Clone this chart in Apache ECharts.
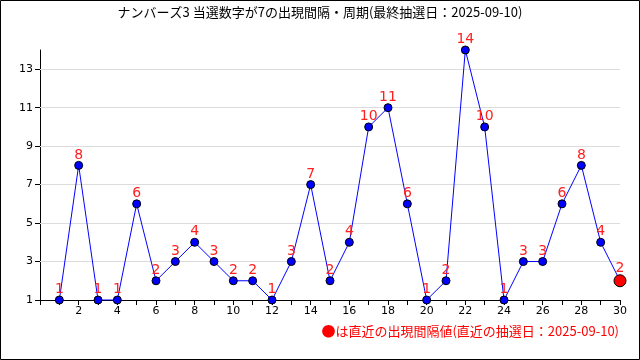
<!DOCTYPE html>
<html><head><meta charset="utf-8">
<script src="https://cdn.jsdelivr.net/npm/echarts@6/dist/echarts.min.js"></script>
<style>html,body{margin:0;padding:0;background:#fff}#c{width:640px;height:360px}</style>
</head><body><div id="c"></div>
<script>
const titleText = 'ナンバーズ3 当選数字が7の出現間隔・周期(最終抽選日：2025-09-10)';
const noteMark = '●';
const noteText = 'は直近の出現間隔値(直近の抽選日：2025-09-10)';
const draws = [1,2,3,4,5,6,7,8,9,10,11,12,13,14,15,16,17,18,19,20,21,22,23,24,25,26,27,28,29,30];
const intervals = [1,8,1,1,6,2,3,4,3,2,2,1,3,7,2,4,10,11,6,1,2,14,10,1,3,3,6,8,4,2];
const yGridValues = [3,5,7,9,11,13];

const font = '"Noto Sans CJK JP", "Noto Sans", sans-serif';
const data = draws.map((d, i) => {
  const p = { value: [d, intervals[i]] };
  if (i === draws.length - 1) {
    p.symbolSize = 12;
    p.itemStyle = { color: '#ff0000', borderColor: '#000', borderWidth: 1 };
  }
  return p;
});

const chart = echarts.init(document.getElementById('c'), null, { renderer: 'canvas' });
chart.setOption({
  animation: false,
  backgroundColor: '#fff',
  title: {
    text: titleText, left: 'center', top: 1,
    textStyle: { fontFamily: font, fontSize: 13, fontWeight: 'normal', color: '#000' }
  },
  grid: { left: 40, right: 20, top: 50, bottom: 60 },
  xAxis: {
    type: 'value', min: 0, max: 30, interval: 1, z: 0,
    axisLine: { show: true, lineStyle: { color: '#000', width: 1 } },
    axisTick: { show: true, length: 5, lineStyle: { color: '#000' } },
    axisLabel: {
      fontFamily: 'DejaVu Sans, sans-serif', fontSize: 11, color: '#000', margin: 6,
      formatter: v => (v > 0 && v % 2 === 0) ? String(v) : ''
    },
    splitLine: { show: false }
  },
  yAxis: {
    type: 'value', min: 1, max: 14, interval: 2, z: 0,
    axisLine: { show: true, lineStyle: { color: '#000', width: 1 } },
    axisTick: { show: true, length: 5, lineStyle: { color: '#000' } },
    axisLabel: {
      fontFamily: 'DejaVu Sans, sans-serif', fontSize: 11, color: '#000', margin: 7,
      showMaxLabel: false,
      formatter: v => (v % 2 === 1) ? String(v) : ''
    },
    splitLine: { show: false }
  },
  graphic: [
    { type: 'rect', shape: { x: 0.5, y: 0.5, width: 639, height: 359 },
      style: { fill: 'none', stroke: '#000', lineWidth: 1 }, z: 100 },
    { type: 'text', right: 21, top: 324,
      style: {
        text: '{m|' + noteMark + '}{t|' + noteText + '}',
        rich: {
          m: { fill: '#ff0000', font: '14px ' + font },
          t: { fill: '#ff0000', font: '13px ' + font }
        }
      } }
  ],
  series: [
    {
      type: 'line', data: [], z: 1, silent: true,
      markLine: {
        z: 1, silent: true, symbol: 'none', label: { show: false },
        lineStyle: { color: '#dcdcdc', width: 1, type: 'solid' },
        data: yGridValues.map(v => ({ yAxis: v }))
      }
    },
    {
      type: 'line', data: data, z: 3,
      symbol: 'circle', symbolSize: 8,
      lineStyle: { color: '#0000ff', width: 1 },
      itemStyle: { color: '#0000ff', borderColor: '#000', borderWidth: 1 },
      label: {
        show: true, position: 'top', distance: -1,
        color: '#ff2020', fontSize: 14, fontFamily: 'DejaVu Sans, sans-serif',
        formatter: p => String(p.value[1])
      }
    }
  ]
});
</script></body></html>
